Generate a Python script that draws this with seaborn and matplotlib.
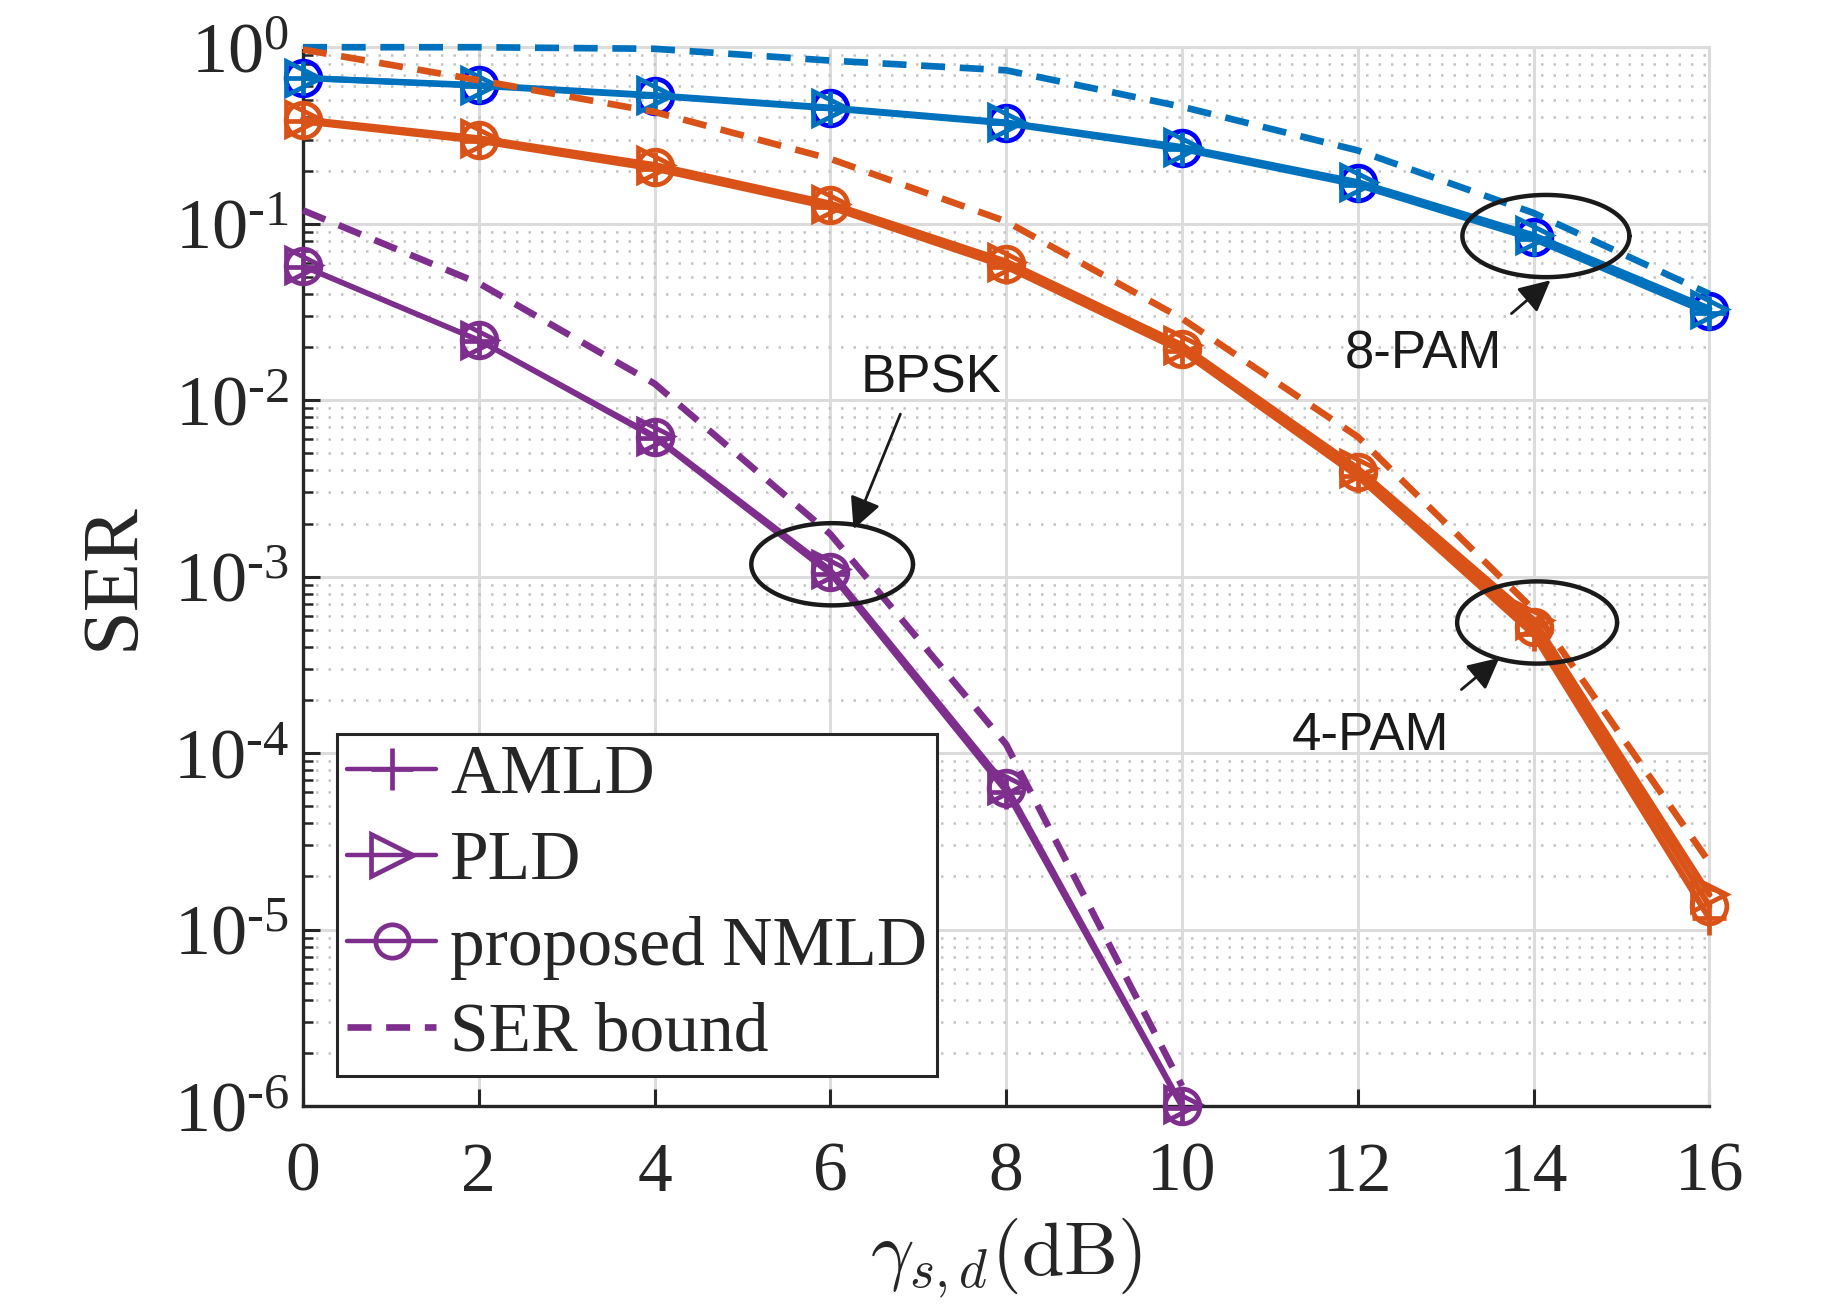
import numpy as np
import matplotlib
matplotlib.use('Agg')
import matplotlib.pyplot as plt
import seaborn as sns
from matplotlib.ticker import LogLocator, FuncFormatter, NullFormatter, FixedLocator
from matplotlib.lines import Line2D

# SNR axis (dB)
snr = [0, 2, 4, 6, 8, 10, 12, 14, 16]
snr_bpsk = [0, 2, 4, 6, 8, 10]

# 8-PAM curves
amld_8pam = [0.67, 0.605, 0.53, 0.45, 0.37, 0.265, 0.166, 0.082, 0.031]
pld_8pam = [0.67, 0.61, 0.535, 0.455, 0.375, 0.272, 0.172, 0.086, 0.033]
nmld_8pam = [0.67, 0.61, 0.53, 0.45, 0.37, 0.268, 0.169, 0.084, 0.032]
bound_8pam = [1.0, 1.0, 0.98, 0.84, 0.74, 0.46, 0.26, 0.115, 0.040]

# 4-PAM curves
amld_4pam = [0.38, 0.295, 0.205, 0.124, 0.057, 0.019, 0.0037, 4.7e-4, 1.16e-5]
pld_4pam = [0.39, 0.305, 0.215, 0.13, 0.061, 0.0205, 0.0041, 5.7e-4, 1.58e-5]
nmld_4pam = [0.385, 0.30, 0.21, 0.127, 0.059, 0.0195, 0.0039, 5.2e-4, 1.36e-5]
bound_4pam = [0.97, 0.65, 0.43, 0.233, 0.103, 0.029, 0.0062, 6.5e-4, 2.4e-5]

# BPSK curves
amld_bpsk = [0.057, 0.0217, 0.0061, 1.03e-3, 6.0e-5, 0.98e-6]
pld_bpsk = [0.058, 0.022, 0.0063, 1.1e-3, 6.6e-5, 1.02e-6]
nmld_bpsk = [0.0575, 0.0219, 0.0062, 1.06e-3, 6.3e-5, 1.0e-6]
bound_bpsk = [0.119, 0.046, 0.0124, 1.74e-3, 1.12e-4, 1.3e-6]

legend_labels = ['AMLD', 'PLD', 'proposed NMLD', 'SER bound']

c_blue = '#0072BD'
c_dblue = '#0000FF'
c_orange = '#D95319'
c_purple = '#7E2F8E'
c_text = '#262626'

sns.set_theme(style='ticks')
plt.rcParams['font.family'] = ['Liberation Serif', 'DejaVu Serif']
plt.rcParams['mathtext.fontset'] = 'custom'
plt.rcParams['mathtext.rm'] = 'Liberation Serif'
plt.rcParams['mathtext.it'] = 'Liberation Serif:italic'

fig, ax = plt.subplots(figsize=(9.21, 6.56), dpi=200)
fig.subplots_adjust(left=0.1645, right=0.928, top=0.964, bottom=0.157)
ax.set_yscale('log')

dash = (0, (3.6, 2.2))


def draw(x, y, color, marker=None, lw=2.0, ls='-', z=3):
    sns.lineplot(x=x, y=y, ax=ax, color=color, marker=marker, lw=lw,
                 linestyle=ls, markersize=12.5, markerfacecolor='none',
                 markeredgecolor=color, markeredgewidth=1.7,
                 clip_on=False, legend=False, zorder=z)


# 8-PAM
draw(snr, nmld_8pam, c_dblue, 'o', lw=1.2)
draw(snr, amld_8pam, c_blue, '+', lw=2.2)
draw(snr, pld_8pam, c_blue, '>', lw=2.2)
draw(snr, bound_8pam, c_blue, None, lw=2.4, ls=dash)

# 4-PAM
draw(snr, amld_4pam, c_orange, '+', lw=2.2)
draw(snr, pld_4pam, c_orange, '>', lw=2.2)
draw(snr, nmld_4pam, c_orange, 'o', lw=2.2)
draw(snr, bound_4pam, c_orange, None, lw=2.4, ls=dash)

# BPSK
draw(snr_bpsk, amld_bpsk, c_purple, '+', lw=1.6)
draw(snr_bpsk, pld_bpsk, c_purple, '>', lw=1.6)
draw(snr_bpsk, nmld_bpsk, c_purple, 'o', lw=1.6)
draw(snr_bpsk, bound_bpsk, c_purple, None, lw=2.4, ls=dash)

ax.set_xlim(0, 16)
ax.set_ylim(1e-6, 1)
ax.xaxis.set_major_locator(FixedLocator(snr))
ax.yaxis.set_major_locator(LogLocator(base=10, numticks=10))
ax.yaxis.set_minor_locator(LogLocator(base=10, subs=np.arange(2, 10), numticks=20))


def dec_label(v, pos):
    e = int(round(np.log10(v)))
    if e < 0:
        return r'$10^{\text{-}%d}$' % (-e)
    return r'$10^{%d}$' % e


ax.yaxis.set_major_formatter(FuncFormatter(dec_label))
ax.yaxis.set_minor_formatter(NullFormatter())

ax.grid(True, which='major', color='#dcdcdc', lw=1.1, ls='-')
ax.grid(True, which='minor', axis='y', color='#c4c4c4', lw=0.9, ls=(0, (1, 4)))
ax.set_axisbelow(True)

for side in ['left', 'bottom']:
    ax.spines[side].set_color(c_text)
    ax.spines[side].set_linewidth(1.2)
for side in ['top', 'right']:
    ax.spines[side].set_color('#dcdcdc')
    ax.spines[side].set_linewidth(1.1)

ax.tick_params(axis='both', which='major', direction='in', length=6, width=1.1,
               colors=c_text, labelcolor=c_text)
ax.tick_params(axis='x', pad=13, labelsize=25)
ax.tick_params(axis='y', pad=5, labelsize=26)
ax.tick_params(axis='y', which='minor', direction='in', length=3.5, width=0.9, colors=c_text)

ax.set_xlabel(r'$\gamma_{s,d}(\mathrm{dB})$', fontsize=27.5, color=c_text, labelpad=4,
              math_fontfamily='cm')
ax.set_ylabel('SER', fontsize=29, color=c_text, labelpad=8)

# annotations: ellipse (center x, center log10 y, half width dB, half height decades)
t = np.linspace(0, 2 * np.pi, 200)
ellipses = [(14.14, -1.07, 0.95, 0.233), (14.04, -3.26, 0.91, 0.233), (6.02, -2.93, 0.92, 0.233)]
for cx, cy, a, b in ellipses:
    ax.plot(cx + a * np.cos(t), 10 ** (cy + b * np.sin(t)), color='k', lw=1.6, zorder=6)

notes = [('8-PAM', (12.75, -1.743), (13.70, -1.53), (14.24, -1.30)),
         ('4-PAM', (12.15, -3.905), (13.13, -3.66), (13.66, -3.44)),
         ('BPSK', (7.15, -1.876), (6.82, -2.05), (6.24, -2.76))]
for label, (tx, ty), (ax0, ay0), (ax1, ay1) in notes:
    ax.text(tx, 10 ** ty, label, fontsize=19, family=['Liberation Sans', 'DejaVu Sans'],
            ha='center', va='center', color='k', zorder=7)
    ax.annotate('', xy=(ax1, 10 ** ay1), xytext=(ax0, 10 ** ay0),
                arrowprops=dict(arrowstyle='-|>', color='k', lw=1.0, mutation_scale=24),
                zorder=7)

handles = [
    Line2D([], [], color=c_purple, lw=1.6, marker='+', markersize=15, mew=1.7),
    Line2D([], [], color=c_purple, lw=1.6, marker='>', markersize=15, mfc='none', mew=1.7),
    Line2D([], [], color=c_purple, lw=1.6, marker='o', markersize=12, mfc='none', mew=1.7),
    Line2D([], [], color=c_purple, lw=2.4, ls=dash),
]
leg = ax.legend(handles, legend_labels, loc='lower left', bbox_to_anchor=(0.024, 0.028),
                fontsize=25, frameon=True, fancybox=False, framealpha=1, edgecolor=c_text,
                handlelength=1.28, handletextpad=0.2, labelspacing=0.32, borderpad=0.15,
                borderaxespad=0)
leg.get_frame().set_linewidth(1.1)
leg.set_zorder(8)

fig.savefig('out.png', dpi=200)
